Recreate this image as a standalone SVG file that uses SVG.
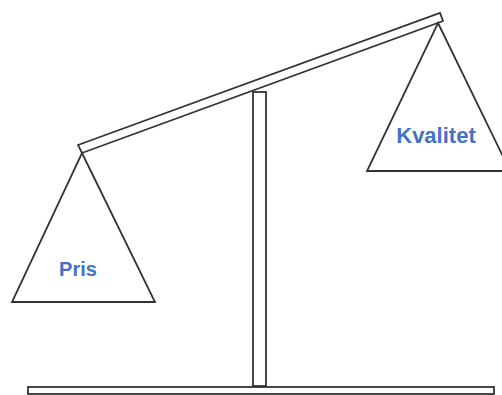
<svg xmlns="http://www.w3.org/2000/svg" width="502" height="395" viewBox="0 0 502 395">
<style>
.s{fill:#fff;stroke:#333;stroke-width:1.8;stroke-linejoin:miter}
.t{font-family:"Liberation Sans",Arial,sans-serif;font-weight:bold;fill:#4472C4;text-anchor:middle}
</style>
<rect width="502" height="395" fill="#fff"/>
<g id="base"><rect class="s" x="28" y="387" width="466" height="7"/></g>
<g id="post"><rect class="s" x="253" y="92" width="13" height="294"/></g>
<g id="beam"><polygon class="s" points="78,145 440,13 443,21 82,153"/></g>
<g id="pris"><polygon class="s" points="82,153 155,302 12,302"/><text class="t" x="78" y="276" font-size="20">Pris</text></g>
<g id="kvalitet"><polygon class="s" points="438,23 510,171 367,171"/><text class="t" x="436" y="143" font-size="22">Kvalitet</text></g>
</svg>
